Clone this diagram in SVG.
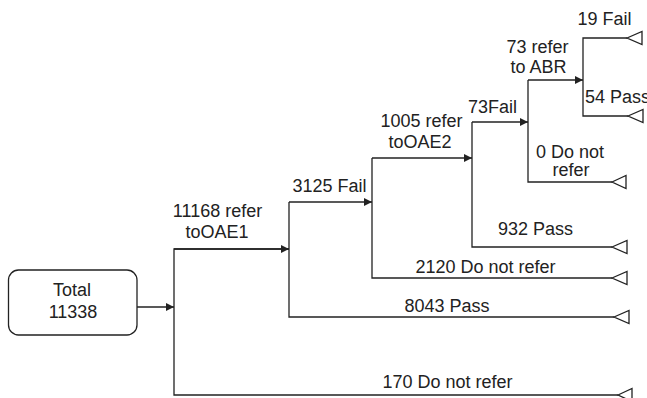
<svg xmlns="http://www.w3.org/2000/svg" width="647" height="398" viewBox="0 0 647 398">
<defs>
<style>
.ln{fill:none;stroke:#222;stroke-width:1.3}
.box{fill:#fff;stroke:#222;stroke-width:1.3}
.tri{fill:#fff;stroke:#222;stroke-width:1.3;stroke-linejoin:miter}
text{font-family:"Liberation Sans",Arial,sans-serif;font-size:18px;fill:#222;text-anchor:middle}
</style>
<marker id="ah" viewBox="0 0 10 10" refX="10" refY="5" markerWidth="8" markerHeight="8" markerUnits="userSpaceOnUse" orient="auto">
<path d="M0,0 L10,5 L0,10 Z" fill="#222"/>
</marker>
</defs>
<g id="total">
<rect class="box" x="8.5" y="270" width="128.5" height="65" rx="10"/>
<text x="72" y="296">Total</text>
<text x="73" y="318">11338</text>
</g>
<g id="connectors">
<line class="ln" x1="137" y1="307" x2="174" y2="307" marker-end="url(#ah)"/>
<polyline class="ln" points="289,249 174,249 174,395 618,395"/>
<line class="ln" x1="174" y1="249" x2="289" y2="249" marker-end="url(#ah)"/>
<polyline class="ln" points="289,202 289,317 614,317"/>
<line class="ln" x1="289" y1="202" x2="372" y2="202" marker-end="url(#ah)"/>
<polyline class="ln" points="372,158 372,278 612,278"/>
<line class="ln" x1="372" y1="158" x2="472" y2="158" marker-end="url(#ah)"/>
<polyline class="ln" points="472,122 472,247 612,247"/>
<line class="ln" x1="472" y1="122" x2="528" y2="122" marker-end="url(#ah)"/>
<polyline class="ln" points="528,80 528,182 612,182"/>
<line class="ln" x1="528" y1="80" x2="583" y2="80" marker-end="url(#ah)"/>
<polyline class="ln" points="627,38 583,38 583,116 628,116"/>
<polygon class="tri" points="627,38 642,31.5 642,44.5"/>
<polygon class="tri" points="628,116 643,109.5 643,122.5"/>
<polygon class="tri" points="612,182 626,175.5 626,188.5"/>
<polygon class="tri" points="612,247 627,240.5 627,253.5"/>
<polygon class="tri" points="612,278 627,271.5 627,284.5"/>
<polygon class="tri" points="614,317 629,310.5 629,323.5"/>
<polygon class="tri" points="618,395 632,388.5 632,401.5"/>
</g>
<g id="labels">
<text x="217.5" y="217">11168 refer</text>
<text x="217" y="238">toOAE1</text>
<text x="447.5" y="388">170 Do not refer</text>
<text x="329.5" y="192">3125 Fail</text>
<text x="447" y="312">8043 Pass</text>
<text x="421.5" y="127">1005 refer</text>
<text x="420" y="148">toOAE2</text>
<text x="485.5" y="273">2120 Do not refer</text>
<text x="492.5" y="113">73Fail</text>
<text x="535.5" y="235">932 Pass</text>
<text x="537.5" y="53">73 refer</text>
<text x="538.5" y="73">to ABR</text>
<text x="570" y="158">0 Do not</text>
<text x="571" y="176">refer</text>
<text x="604.5" y="25">19 Fail</text>
<text x="585" y="103" style="text-anchor:start">54 Pass</text>
</g>
</svg>
